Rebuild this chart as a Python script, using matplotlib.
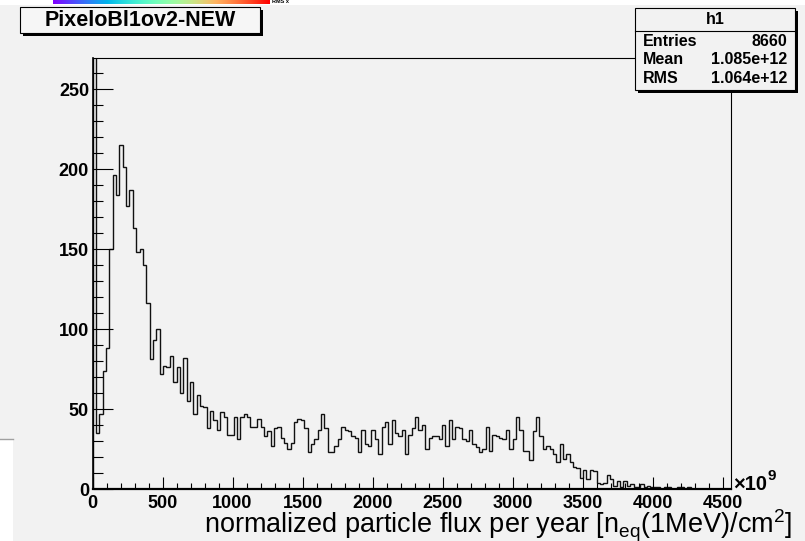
import numpy as np
import matplotlib
matplotlib.use("Agg")
import matplotlib.pyplot as plt
from matplotlib.patches import Rectangle
from matplotlib.ticker import MultipleLocator

# histogram contents (x in units of 1e9, 24 per bin)
# first bin runs off the top of the frame
x_min, x_max, n_bins = 0, 4560, 190
counts = [
    300, 35, 47, 74, 88, 150, 196, 184, 215, 201,
    177, 187, 163, 148, 150, 140, 116, 81, 93, 100,
    72, 77, 76, 83, 67, 76, 60, 82, 55, 67,
    47, 59, 52, 51, 38, 49, 43, 37, 48, 45,
    34, 34, 45, 31, 45, 47, 45, 39, 39, 44,
    39, 33, 36, 27, 38, 39, 32, 29, 25, 29,
    42, 44, 43, 38, 23, 28, 31, 37, 47, 38,
    23, 23, 27, 31, 39, 37, 36, 33, 32, 23,
    37, 28, 27, 37, 31, 22, 39, 42, 28, 43,
    35, 33, 37, 22, 34, 38, 45, 37, 40, 25,
    32, 33, 33, 31, 40, 27, 43, 31, 39, 38,
    31, 30, 37, 28, 26, 23, 25, 39, 24, 34,
    33, 32, 31, 37, 25, 31, 45, 37, 24, 24,
    18, 36, 45, 33, 25, 27, 25, 22, 17, 28,
    19, 22, 17, 14, 13, 7, 12, 6, 12, 11,
    4, 3, 4, 9, 6, 2, 5, 1, 5, 2,
    3, 1, 1, 3, 1, 2, 1, 1, 1, 0,
    1, 1, 0, 0, 1, 1, 0, 1, 0, 0,
    0, 0, 0, 0, 0, 0, 0, 0, 0, 0,
]
x_ticks = [0, 500, 1000, 1500, 2000, 2500, 3000, 3500, 4000, 4500]
y_ticks = [0, 50, 100, 150, 200, 250]
y_top = 269.4

title = "PixeloBl1ov2-NEW"
stats_name = "h1"
stats_rows = [("Entries", "8660"), ("Mean", "1.085e+12"), ("RMS", "1.064e+12")]
x_title = r"normalized particle flux per year [n$_{\mathrm{eq}}$(1MeV)/cm$^{2}$]"

plt.rcParams["font.family"] = ["Liberation Sans", "DejaVu Sans"]
plt.rcParams["mathtext.fontset"] = "custom"
plt.rcParams["mathtext.rm"] = "Liberation Sans"
plt.rcParams["mathtext.it"] = "Liberation Sans:italic"

W, H = 805, 541
BG = "#f2f2f2"


def fx(px):
    return px / W


def fy(py):
    return 1 - py / H


def box(fig, x0, y0, x1, y1, fill, shadow=3):
    """Draw a ROOT style pave with a dark shadow, pixel coords."""
    fig.patches.append(Rectangle((fx(x0 + shadow), fy(y1 + shadow)), fx(x1 - x0), (y1 - y0) / H,
                                 transform=fig.transFigure, facecolor="black", edgecolor="none"))
    fig.patches.append(Rectangle((fx(x0), fy(y1)), fx(x1 - x0), (y1 - y0) / H,
                                 transform=fig.transFigure, facecolor=fill, edgecolor="black", lw=0.8))


fig = plt.figure(figsize=(W / 100, H / 100), dpi=100, facecolor=BG)

# bits of the window behind the canvas
fig.patches.append(Rectangle((0, fy(5)), 1, 5 / H, transform=fig.transFigure,
                             facecolor="white", edgecolor="none", zorder=-5))
fig.patches.append(Rectangle((0, 0), fx(13), fy(439), transform=fig.transFigure,
                             facecolor="white", edgecolor="none", zorder=-5))
fig.lines.append(plt.Line2D([0, fx(13)], [fy(438.5), fy(438.5)], transform=fig.transFigure,
                            color="#a0a0a0", lw=1))
pal = fig.add_axes([fx(53), fy(4), fx(217), 4 / H], zorder=5)
pal.imshow(np.linspace(0, 1, 256)[None, :], aspect="auto", cmap="rainbow")
pal.axis("off")
fig.text(fx(272), fy(3), "RMS x", fontsize=4, fontweight="bold", ha="left", va="baseline")

ax = fig.add_axes([fx(92.5), fy(489), fx(731 - 92.5), (489 - 58) / H], facecolor=BG)
edges = np.linspace(x_min, x_max, n_bins + 1)
ax.stairs(counts, edges, color="#111111", lw=1.0, baseline=0)
ax.set_xlim(x_min, x_max)
ax.set_ylim(0, y_top)

ax.set_xticks(x_ticks)
ax.set_yticks(y_ticks)
ax.xaxis.set_minor_locator(MultipleLocator(100))
ax.yaxis.set_minor_locator(MultipleLocator(10))
ax.tick_params(axis="y", which="major", direction="in", length=14.4, width=0.8, pad=2.5,
               labelsize=13, color="black")
ax.tick_params(axis="y", which="minor", direction="in", length=7.2, width=0.8)
ax.tick_params(axis="x", which="major", direction="in", length=8.6, width=0.8, pad=4.3,
               labelsize=13)
ax.tick_params(axis="x", which="minor", direction="in", length=4.3, width=0.8)
for lab in ax.get_xticklabels() + ax.get_yticklabels():
    lab.set_fontweight("bold")
for side, lw in [("left", 1.2), ("bottom", 1.6), ("top", 0.8), ("right", 0.8)]:
    ax.spines[side].set_linewidth(lw)
    ax.spines[side].set_color("black")

fig.text(fx(733), fy(490), "\u00d710", fontsize=14.5, fontweight="bold", ha="left", va="baseline")
fig.text(fx(767), fy(480), "9", fontsize=11, fontweight="bold", ha="left", va="baseline")
fig.text(fx(792), fy(534), x_title, fontsize=19.5, ha="right", va="baseline")

# title pave
box(fig, 20, 7, 260, 33, "#f6f6f6")
fig.text(fx(140), fy(20.5), title, fontsize=15.5, fontweight="bold", ha="center", va="center")

# stats pave
box(fig, 635, 8, 795, 90, BG)
fig.lines.append(plt.Line2D([fx(635), fx(795)], [fy(30.5), fy(30.5)], transform=fig.transFigure,
                            color="black", lw=0.8))
fig.text(fx(715), fy(20), stats_name, fontsize=11.5, fontweight="bold", ha="center", va="center")
for i, (name, val) in enumerate(stats_rows):
    yy = fy(41.5 + 18.5 * i)
    fig.text(fx(643), yy, name, fontsize=11.5, fontweight="bold", ha="left", va="center")
    fig.text(fx(787), yy, val, fontsize=11.5, fontweight="bold", ha="right", va="center")

fig.savefig("out.png", dpi=100, facecolor=BG)
